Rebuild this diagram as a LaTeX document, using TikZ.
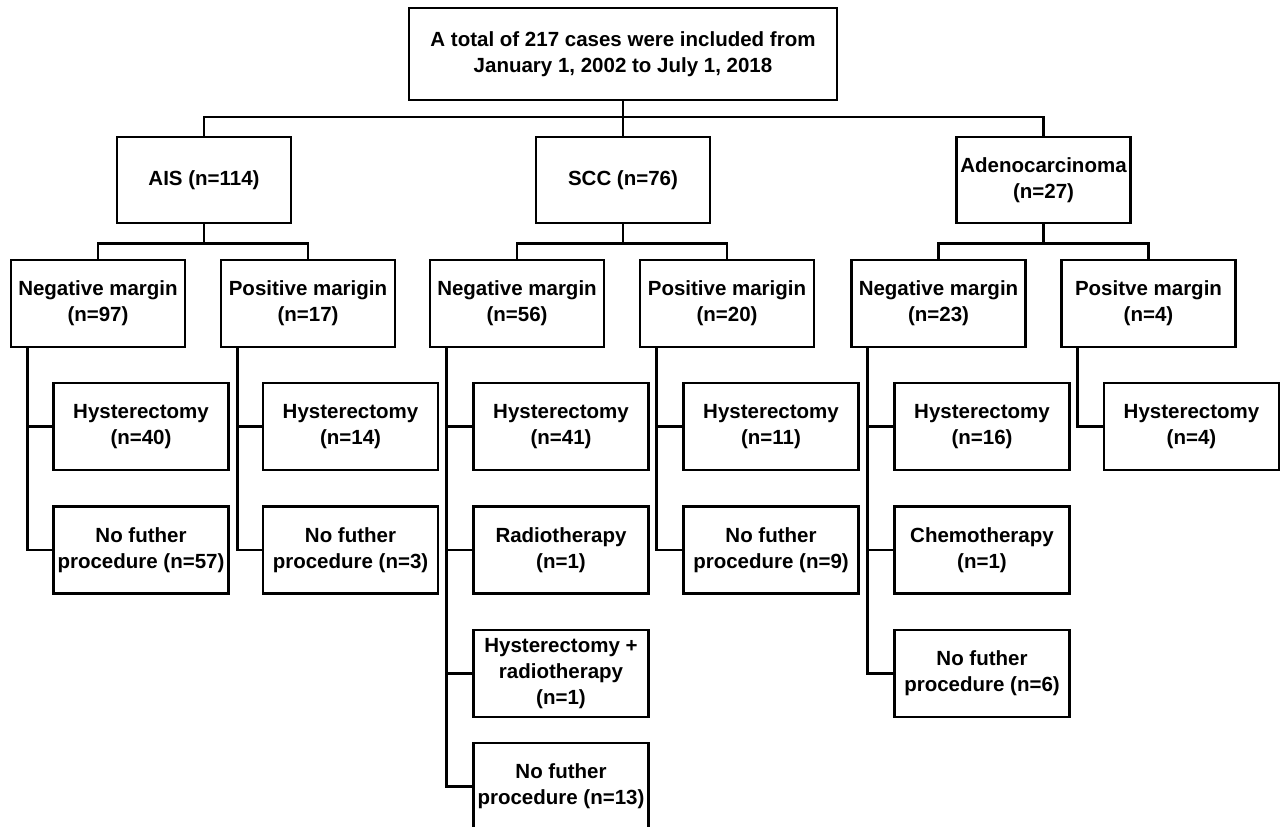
\documentclass[tikz,border=0pt]{standalone}
\usepackage{fontspec}
\setmainfont{Liberation Sans}
\begin{document}
\begin{tikzpicture}[x=1pt,y=-1pt,
  box/.style={draw=black, line width=2.6pt, fill=white, align=center, inner sep=1pt,
    font=\bfseries\fontsize{20.5}{26}\selectfont},
  lvone/.style={box, minimum width=174pt, minimum height=86pt},
  lvtwo/.style={box, minimum width=174pt, minimum height=87pt},
  lvthree/.style={box, minimum width=175pt, minimum height=87pt},
  conn/.style={draw=black, line width=2.6pt}]
\useasboundingbox (0,0) rectangle (1282,827);
\clip (0,0) rectangle (1282,827);
\fill[white] (0,0) rectangle (1282,827);

% top
\node[box, minimum width=428pt, minimum height=92pt] (top) at (623,54)
  {A total of 217 cases were included from\\January 1, 2002 to July 1, 2018};

% level 1
\node[lvone] (ais) at (204,180) {AIS (n=114)};
\node[lvone] (scc) at (623,180) {SCC (n=76)};
\node[lvone] (ade) at (1043.5,180) {Adenocarcinoma\\(n=27)};

% level 2
\node[lvtwo] (aisneg) at (98,303.5) {Negative margin\\(n=97)};
\node[lvtwo] (aispos) at (308,303.5) {Positive marigin\\(n=17)};
\node[lvtwo] (sccneg) at (517,303.5) {Negative margin\\(n=56)};
\node[lvtwo] (sccpos) at (727,303.5) {Positive marigin\\(n=20)};
\node[lvtwo] (adeneg) at (938.5,303.5) {Negative margin\\(n=23)};
\node[lvtwo] (adepos) at (1148.5,303.5) {Positve margin\\(n=4)};

% level 3
\node[lvthree] (an1) at (141,426.5) {Hysterectomy\\(n=40)};
\node[lvthree] (an2) at (141,550) {No futher\\procedure (n=57)};
\node[lvthree] (ap1) at (350.5,426.5) {Hysterectomy\\(n=14)};
\node[lvthree] (ap2) at (350.5,550) {No futher\\procedure (n=3)};
\node[lvthree] (sn1) at (561,426.5) {Hysterectomy\\(n=41)};
\node[lvthree] (sn2) at (561,550) {Radiotherapy\\(n=1)};
\node[lvthree] (sn3) at (561,673.5) {Hysterectomy +\\radiotherapy\\(n=1)};
\node[lvthree] (sn4) at (561,786.5) {No futher\\procedure (n=13)};
\node[lvthree] (sp1) at (771,426.5) {Hysterectomy\\(n=11)};
\node[lvthree] (sp2) at (771,550) {No futher\\procedure (n=9)};
\node[lvthree] (dn1) at (982,426.5) {Hysterectomy\\(n=16)};
\node[lvthree] (dn2) at (982,550) {Chemotherapy\\(n=1)};
\node[lvthree] (dn3) at (982,673.5) {No futher\\procedure (n=6)};
\node[lvthree] (dp1) at (1191.5,426.5) {Hysterectomy\\(n=4)};

% connectors level 0-1
\coordinate (j0) at (623,117);
\draw[conn] (top.south) -- (scc.north);
\draw[conn] (ais.north) |- (j0) -| (ade.north);

% connectors level 1-2
\foreach \p/\l/\r in {ais/aisneg/aispos, scc/sccneg/sccpos, ade/adeneg/adepos}{
  \path (\p.south) ++(0,19) coordinate (j\p);
  \draw[conn] (\p.south) -- (j\p);
  \draw[conn] (\l.north) |- (j\p) -| (\r.north);
}

% connectors level 2-3
\coordinate (tan) at ([xshift=17.5pt]aisneg.south west);
\draw[conn] (tan) |- (an2.west);
\draw[conn] (tan |- an1.west) -- (an1.west);

\coordinate (tap) at ([xshift=17.5pt]aispos.south west);
\draw[conn] (tap) |- (ap2.west);
\draw[conn] (tap |- ap1.west) -- (ap1.west);

\coordinate (tsn) at ([xshift=17.5pt]sccneg.south west);
\draw[conn] (tsn) |- (sn4.west);
\draw[conn] (tsn |- sn1.west) -- (sn1.west);
\draw[conn] (tsn |- sn2.west) -- (sn2.west);
\draw[conn] (tsn |- sn3.west) -- (sn3.west);

\coordinate (tsp) at ([xshift=17.5pt]sccpos.south west);
\draw[conn] (tsp) |- (sp2.west);
\draw[conn] (tsp |- sp1.west) -- (sp1.west);

\coordinate (tdn) at ([xshift=17.5pt]adeneg.south west);
\draw[conn] (tdn) |- (dn3.west);
\draw[conn] (tdn |- dn1.west) -- (dn1.west);
\draw[conn] (tdn |- dn2.west) -- (dn2.west);

\coordinate (tdp) at ([xshift=17.5pt]adepos.south west);
\draw[conn] (tdp) |- (dp1.west);
\end{tikzpicture}
\end{document}
